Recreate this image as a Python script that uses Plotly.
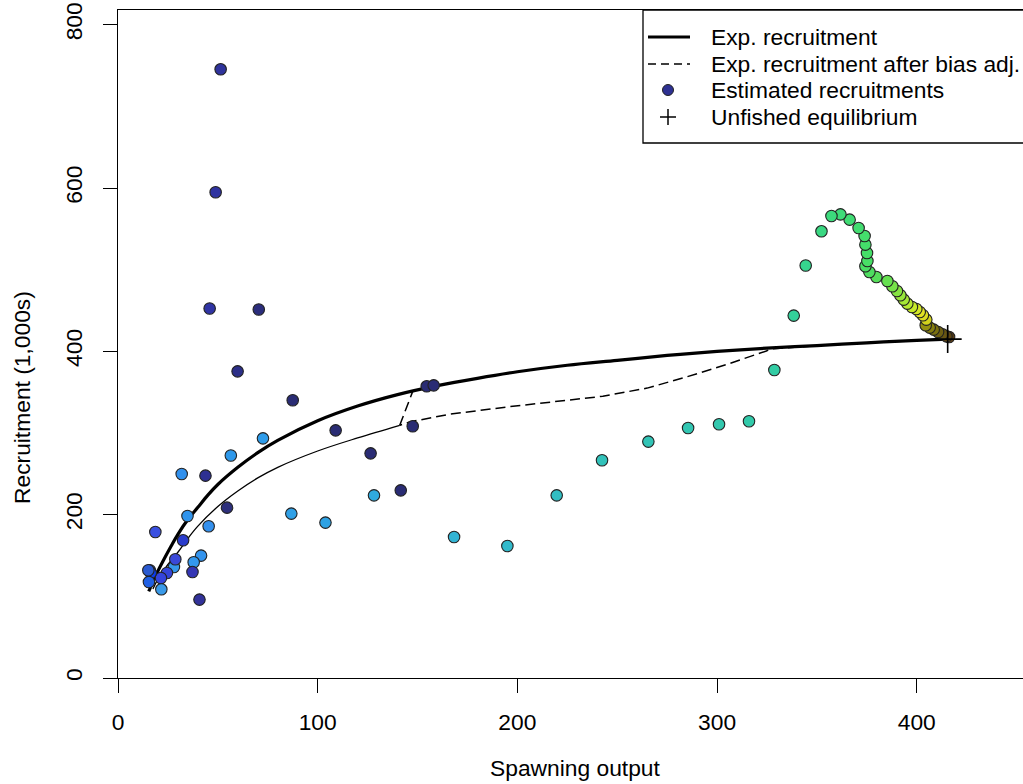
import plotly.graph_objects as go

# ---------------- data ----------------
# Estimated recruitments, in time order (earliest first)
ssb = [
    416.2, 414.9, 412.9, 410.7, 408.5, 406.5, 404.5, 404.8, 403.1, 401.5,
    399.8, 397.6, 395.3, 393.5, 391.8, 390.1, 387.8, 385.3, 379.8, 376.3,
    374.3, 375.3, 375.1, 374.3, 373.9, 370.9, 366.4, 361.8, 357.3, 352.3,
    344.4, 338.4, 328.7, 316.0, 301.0, 285.5, 265.6, 242.4, 219.7, 195.0,
    168.3, 128.2, 103.9, 86.8, 72.6, 56.5, 34.8, 31.9, 45.4, 41.6,
    37.9, 28.0, 21.7, 28.7, 24.5, 21.5, 15.9, 16.4, 15.5, 15.2,
    18.7, 32.6, 37.3, 40.8, 43.8, 54.6, 45.9, 48.9, 51.4, 59.9,
    70.5, 87.5, 109.0, 126.5, 141.6, 147.6, 154.6, 158.1]
recruits = [
    417.6, 418.4, 420.9, 423.7, 426.6, 429.1, 431.9, 438.9, 444.2, 448.2,
    451.9, 454.3, 458.5, 463.4, 468.7, 473.9, 479.7, 486.2, 491.1, 497.2,
    504.2, 510.7, 520.5, 530.7, 541.3, 551.1, 561.3, 567.8, 565.7, 547.0,
    505.1, 443.8, 377.2, 314.4, 310.7, 306.2, 289.5, 266.6, 223.7, 161.7,
    172.7, 223.7, 190.3, 201.3, 293.5, 272.5, 198.4, 249.8, 185.8, 149.9,
    141.7, 135.9, 108.6, 145.4, 128.6, 122.5, 131.9, 128.6, 117.6, 131.9,
    178.8, 168.6, 129.8, 96.0, 247.8, 208.6, 452.5, 594.8, 745.4, 375.5,
    451.3, 340.1, 303.3, 275.1, 229.8, 308.2, 357.2, 358.4]

# Expected recruitment (stock-recruit curve)
curve_ssb = [15.4, 18.4, 22.5, 26.7, 30, 35, 40, 45, 50, 60, 70, 80, 100, 120, 140,
             160, 180, 200, 225, 250, 275, 300, 325, 350, 375, 400, 415.5]
curve_rec = [106, 123, 143, 162, 176, 194, 209, 224, 237, 258, 276, 291, 315, 333, 347,
             358, 367, 375, 383, 389, 395, 400, 404, 407, 410.5, 413.5, 415]

# Expected recruitment after bias adjustment (three pieces of one series)
bias_ramp_ssb = [415.5, 400, 375, 350, 327, 324.7, 305, 284.6, 265, 242.8, 195, 166, 146.1, 141.1]
bias_ramp_rec = [415, 413.5, 410.5, 407, 403, 400.5, 384, 368.6, 355, 345, 332, 323, 313.6, 309.4]
bias_full_ssb = [17.5, 20, 25, 30, 35, 40, 50, 60, 70, 80, 100, 120, 141.1]
bias_full_rec = [109, 121, 139, 154, 171, 186, 210, 229, 245, 258, 278, 294, 309.4]
bias_end_ssb = [141.1, 147.6, 150, 155, 158.1]
bias_end_rec = [309.4, 351, 353, 356, 357.5]

unfished_ssb = [415.5]
unfished_rec = [415.0]

x_ticks = [0, 100, 200, 300, 400]
y_ticks = [0, 200, 400, 600, 800]
legend_labels = ["Exp. recruitment", "Exp. recruitment after bias adj.",
                 "Estimated recruitments", "Unfished equilibrium"]

# ---------------- styles ----------------
point_colors = (
    ["#5b3d12", "#5e4512", "#675513", "#6e6012", "#7a7010", "#857e10", "#959010",
     "#d2d21c", "#dcdc20", "#e2e224",
     "#d4e826", "#c6ea2a", "#b6ea30", "#a6e836", "#96e63c", "#86e442", "#76e248", "#66e050",
     "#56de5a", "#4ede60", "#4ade64", "#48de66", "#46de68", "#44de6a", "#44dd6c", "#42dc70",
     "#40dc74", "#3edb78", "#3cda7c", "#3ad882",
     "#36d48e", "#34d09a", "#32cca4",
     "#32caaa", "#32c8ae", "#32c6b2", "#32c4b6",
     "#32c2ba", "#32bec2", "#32bacb", "#32b4d4",
     "#30aade", "#2ea2e4",
     "#30a0e6", "#2e9cea", "#2e98ea", "#3094ec", "#3190ec", "#3390ee", "#3394ee",
     "#3498ee", "#3698ec", "#3a9ae8",
     "#3a48d8", "#3444d8", "#3444dc", "#2050d8", "#0a3cf0", "#2060e4", "#2a5ad0",
     "#3a50e0", "#2a3ccc", "#3436b4",
     "#32329a", "#2e3092", "#2e307c",
     "#3034a4", "#2f33a0", "#2f339c", "#2c2f88", "#2b2d7c"]
    + ["#2a2c74"] * 7
)

W, H = 1023, 784
ML, MR, MT, MB = 118, 0, 10, 106
PW, PH = W - ML - MR, H - MT - MB
X_PER_UNIT = 1.9968
Y_PER_UNIT = 0.8166
FONT = "Liberation Sans, Arial, sans-serif"
FS = 22.8


def px(xp):
    return (xp - ML) / PW


def py(yp):
    return (H - MB - yp) / PH


fig = go.Figure()

fig.add_trace(go.Scatter(x=bias_ramp_ssb, y=bias_ramp_rec, mode="lines",
                         line=dict(color="black", width=1.5, dash="10px,5px"),
                         showlegend=False, hoverinfo="skip"))
fig.add_trace(go.Scatter(x=bias_full_ssb, y=bias_full_rec, mode="lines",
                         line=dict(color="black", width=1.3, shape="spline"),
                         showlegend=False, hoverinfo="skip"))
fig.add_trace(go.Scatter(x=bias_end_ssb, y=bias_end_rec, mode="lines",
                         line=dict(color="black", width=1.5, dash="10px,5px"),
                         showlegend=False, hoverinfo="skip"))
fig.add_trace(go.Scatter(x=curve_ssb, y=curve_rec, mode="lines",
                         line=dict(color="black", width=3.2, shape="spline"),
                         showlegend=False, name=legend_labels[0]))
fig.add_trace(go.Scatter(x=ssb, y=recruits, mode="markers",
                         marker=dict(size=11.5, color=point_colors,
                                     line=dict(color="#222222", width=1.1)),
                         showlegend=False, name=legend_labels[2]))
fig.add_trace(go.Scatter(x=unfished_ssb, y=unfished_rec, mode="markers",
                         marker=dict(symbol="cross-thin", size=20,
                                     line=dict(color="black", width=1.6)),
                         showlegend=False, name=legend_labels[3]))

# ---------- hand-drawn legend (R style, cropped at the right edge) ----------
LEG_Y = [37, 64, 90, 117]
shapes = [
    dict(type="rect", xref="paper", yref="paper", x0=px(643), x1=px(1045),
         y0=py(143), y1=py(10), line=dict(color="black", width=1.3),
         fillcolor="white", layer="above"),
    dict(type="line", xref="paper", yref="paper", x0=px(648), x1=px(690),
         y0=py(LEG_Y[0]), y1=py(LEG_Y[0]), line=dict(color="black", width=3)),
    dict(type="line", xref="paper", yref="paper", x0=px(648), x1=px(690),
         y0=py(LEG_Y[1]), y1=py(LEG_Y[1]), line=dict(color="black", width=1.4, dash="8px,5px")),
    dict(type="circle", xref="paper", yref="paper", x0=px(662.5), x1=px(673.5),
         y0=py(LEG_Y[2] + 5.5), y1=py(LEG_Y[2] - 5.5), fillcolor="#2e3192",
         line=dict(color="#222222", width=1)),
    dict(type="line", xref="paper", yref="paper", x0=px(660), x1=px(676),
         y0=py(LEG_Y[3]), y1=py(LEG_Y[3]), line=dict(color="black", width=1.5)),
    dict(type="line", xref="paper", yref="paper", x0=px(668), x1=px(668),
         y0=py(LEG_Y[3] - 8), y1=py(LEG_Y[3] + 8), line=dict(color="black", width=1.5)),
]
annotations = []
for lab, yy in zip(legend_labels, LEG_Y):
    annotations.append(dict(text=lab, xref="paper", yref="paper", x=px(709), y=py(yy),
                            xanchor="left", yanchor="middle", showarrow=False,
                            font=dict(family=FONT, size=FS, color="black")))
annotations.append(dict(text="Spawning output", xref="paper", yref="paper",
                        x=px(575), y=py(768), xanchor="center", yanchor="middle",
                        showarrow=False, font=dict(family=FONT, size=FS, color="black")))
annotations.append(dict(text="Recruitment (1,000s)", xref="paper", yref="paper",
                        x=px(22), y=py(398), xanchor="center", yanchor="middle",
                        textangle=-90, showarrow=False,
                        font=dict(family=FONT, size=FS, color="black")))

fig.update_layout(
    width=W, height=H,
    margin=dict(l=ML, r=MR, t=MT, b=MB, pad=0),
    paper_bgcolor="white", plot_bgcolor="white",
    font=dict(family=FONT, size=FS, color="black"),
    showlegend=False,
    shapes=shapes, annotations=annotations,
    xaxis=dict(range=[0, PW / X_PER_UNIT], tickmode="array", tickvals=x_ticks,
               ticktext=[str(v) for v in x_ticks],
               showgrid=False, zeroline=False, showline=True, mirror=True,
               linecolor="black", linewidth=1.3, ticks="outside", ticklen=14,
               tickwidth=1.3, tickcolor="black", ticklabelstandoff=9,
               tickfont=dict(family=FONT, size=FS, color="black")),
    yaxis=dict(range=[0, PH / Y_PER_UNIT], tickmode="array", tickvals=y_ticks,
               ticktext=[str(v) for v in y_ticks], tickangle=-90,
               showgrid=False, zeroline=False, showline=True, mirror=False,
               linecolor="black", linewidth=1.3, ticks="outside", ticklen=14,
               tickwidth=1.3, tickcolor="black", ticklabelstandoff=12,
               tickfont=dict(family=FONT, size=FS, color="black")),
)

fig.write_html("out.html", config={"displayModeBar": False},
               post_script="document.body.style.margin='0';document.body.style.overflow='hidden';")
